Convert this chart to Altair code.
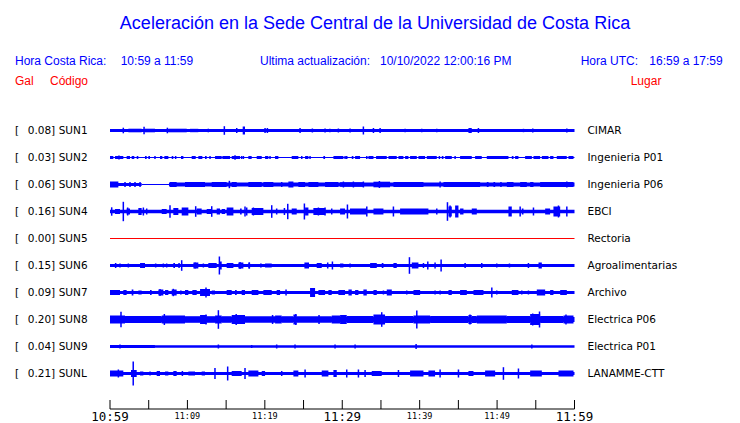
import altair as alt
import pandas as pd

# ---------------- data ----------------
codes = ["SUN1", "SUN2", "SUN3", "SUN4", "SUN5", "SUN6", "SUN7", "SUN8", "SUN9", "SUNL"]
peaks = [0.08, 0.03, 0.06, 0.16, 0.00, 0.15, 0.09, 0.20, 0.04, 0.21]
places = ["CIMAR", "Ingenieria P01", "Ingenieria P06", "EBCI", "Rectoria",
          "Agroalimentarias", "Archivo", "Electrica P06", "Electrica P01", "LANAMME-CTT"]

# minutes after 10:59 for ticks / labels
tick_minutes = list(range(0, 61, 5))
label_minutes = list(range(0, 61, 10))
tick_labels = ["10:59", "11:09", "11:19", "11:29", "11:39", "11:49", "11:59"]

# trace envelopes: (start_min, end_min, half amplitude) and spikes: (minute, half amplitude)
sun1_env = [(0, 60, 1.4), (2.37, 4.09, 1.8), (4.52, 5.81, 1.8), (7.54, 9.91, 1.8), (10.34, 11.41, 1.7),
            (17.14, 17.44, 4.0), (46.3, 46.73, 2.5)]
sun1_spk = [(1.72, 2.8), (4.4, 3.7), (7.41, 2.8), (12.7, 1.8), (14.77, 4.3), (16.37, 2.5), (20.03, 2.5),
            (20.33, 2.5), (24.55, 2.5), (26.14, 2.0), (27.78, 2.0), (28.4, 1.8), (29.5, 2.0), (31.01, 2.0),
            (32.73, 4.0), (34.03, 2.5), (34.89, 2.5), (38.12, 1.7), (40.27, 1.7), (42.21, 1.8), (47.59, 2.5),
            (53.41, 1.7), (54.61, 2.0), (59.01, 2.0)]

sun2_env = [(0, 60, 0.5)] + [(a, b, 1.5) for a, b in [
    (0.0, 0.43), (0.65, 1.72), (2.15, 2.58), (2.8, 3.14), (3.45, 3.66), (4.52, 4.74), (4.95, 5.17),
    (6.46, 6.76), (7.02, 7.54), (7.97, 8.18), (9.17, 9.48), (10.55, 11.07), (11.41, 11.93), (12.27, 12.49),
    (13.57, 14.43), (14.51, 15.51), (15.72, 16.8), (17.87, 18.3), (18.95, 19.6), (20.03, 20.46),
    (21.32, 21.75), (23.47, 24.33), (25.2, 25.63), (27.56, 27.78), (28.86, 30.15), (31.23, 31.44),
    (31.66, 32.3), (33.38, 34.03), (34.37, 35.75), (35.97, 37.04), (37.26, 37.9), (38.12, 38.55),
    (38.76, 39.63), (39.84, 40.7), (40.92, 42.21), (42.86, 43.07), (43.29, 44.15), (45.22, 46.73),
    (47.16, 48.02), (48.67, 51.47), (51.9, 52.12), (52.33, 52.76), (53.62, 54.49), (54.7, 55.56),
    (55.78, 56.64), (56.85, 57.28), (57.71, 59.0), (59.22, 59.87)]]
sun2_spk = [(1.16, 2.0), (5.81, 1.5), (8.48, 1.5), (12.92, 1.5), (16.15, 2.2), (17.01, 1.5), (17.23, 1.5),
            (20.67, 1.5), (24.77, 1.5), (25.84, 1.5), (30.37, 1.5), (30.58, 1.5), (33.17, 1.5), (42.55, 1.5),
            (44.58, 1.5)]

sun3_env = [(0, 4.09, 1.6), (4.09, 7.62, 0.5), (7.62, 60, 1.9),
            (0, 1.08, 3.0), (7.75, 8.61, 2.5), (9.69, 12.27, 2.5), (13.14, 15.07, 2.5), (15.72, 16.37, 2.5),
            (17.87, 19.6, 2.5), (19.81, 21.1, 2.5), (23.04, 23.69, 3.0), (24.33, 25.2, 2.5), (25.63, 26.92, 2.5),
            (27.78, 29.5, 2.5), (29.72, 32.73, 2.3), (34.03, 36.18, 2.8), (36.61, 40.49, 2.5), (43.07, 47.81, 2.5),
            (48.67, 48.9, 2.5), (49.53, 49.75, 2.5), (50.4, 50.6, 2.5), (51.26, 52.12, 2.5), (52.98, 53.84, 2.5),
            (54.27, 54.7, 2.5), (55.56, 59.87, 2.5)]
sun3_spk = [(1.94, 2.5), (2.58, 2.5), (3.23, 2.5), (3.88, 2.5), (15.42, 3.7), (22.18, 2.5), (30.15, 3.0),
            (31.44, 3.0), (32.73, 3.0), (34.8, 3.5), (42.64, 3.0), (59.01, 3.0)]

sun4_env = [(0, 60, 1.7), (0.65, 1.29, 2.5), (2.15, 2.58, 3.0), (3.66, 4.09, 3.5), (6.68, 7.32, 2.5),
            (8.18, 8.83, 3.5), (9.26, 10.12, 4.0), (11.2, 11.84, 3.0), (12.49, 13.14, 2.5), (13.78, 14.21, 3.0),
            (14.43, 14.86, 2.5), (15.07, 15.94, 4.0), (16.8, 17.01, 3.0), (18.3, 19.81, 3.5), (23.47, 24.12, 3.0),
            (25.2, 25.63, 4.0), (26.27, 27.78, 3.5), (29.72, 30.36, 3.0), (31.0, 33.17, 3.0), (34.03, 35.32, 3.0),
            (37.47, 41.13, 3.0), (43.72, 44.15, 5.0), (44.58, 45.01, 6.0), (45.22, 45.66, 3.0), (46.73, 47.38, 3.0),
            (51.47, 51.9, 5.0), (53.19, 53.41, 3.0), (56.21, 56.85, 3.0), (57.28, 58.15, 5.0)]
sun4_spk = [(0.22, 4.2), (1.72, 9.7), (2.28, 4.0), (4.31, 4.0), (4.74, 3.0), (7.75, 6.3), (11.07, 5.3),
            (13.14, 5.3), (17.44, 5.0), (17.66, 4.0), (18.52, 4.0), (20.89, 6.3), (21.53, 3.0), (22.53, 3.5),
            (22.96, 7.7), (25.11, 8.0), (26.92, 4.0), (27.78, 4.0), (28.64, 3.0), (30.67, 7.0), (33.17, 5.0),
            (36.61, 5.0), (42.21, 3.0), (43.59, 9.3), (43.93, 6.0), (52.98, 5.0), (54.7, 4.0), (57.93, 6.0),
            (59.01, 5.0)]

sun5_env = [(0, 60, 0.5)]
sun5_spk = []

sun6_env = [(0, 60, 1.4), (3.88, 4.52, 2.5), (8.18, 8.4, 2.5), (10.77, 11.41, 3.0), (12.7, 13.78, 2.5),
            (14.21, 14.43, 4.0), (15.07, 15.94, 2.5), (16.58, 17.23, 3.0), (17.87, 18.09, 3.0), (19.38, 19.6, 2.0),
            (20.03, 20.89, 2.0), (25.11, 25.71, 3.0), (26.7, 27.35, 2.5), (29.72, 30.15, 2.0), (33.6, 34.46, 2.5),
            (35.1, 35.32, 2.5), (36.61, 37.04, 2.5), (38.98, 39.84, 3.0), (55.35, 55.78, 3.0)]
sun6_spk = [(0.73, 2.5), (1.29, 2.0), (2.37, 2.0), (5.9, 2.0), (6.89, 2.0), (7.32, 2.0), (8.92, 2.5),
            (9.26, 5.3), (11.0, 3.0), (12.06, 2.0), (14.13, 9.0), (16.8, 3.5), (18.0, 3.0), (28.12, 3.0),
            (28.73, 4.0), (31.01, 2.0), (38.68, 8.3), (40.49, 2.5), (41.05, 4.0), (41.99, 3.0), (42.77, 6.0),
            (45.87, 2.5), (48.02, 2.5), (49.96, 2.0), (51.6, 2.0), (54.05, 2.5)]

sun7_env = [(0, 60, 1.6), (0, 1.29, 2.5), (1.72, 2.15, 2.5), (2.8, 3.02, 3.0), (3.66, 4.09, 2.0),
            (5.17, 5.38, 2.5), (6.25, 6.89, 3.0), (7.11, 7.54, 2.5), (7.97, 8.61, 3.0), (9.04, 9.26, 2.0),
            (9.69, 10.12, 2.5), (10.64, 11.2, 2.5), (11.63, 12.92, 3.5), (13.14, 13.57, 2.0), (15.07, 15.72, 2.5),
            (16.15, 16.37, 2.5), (17.01, 17.44, 2.5), (18.3, 19.17, 2.5), (19.81, 20.89, 2.5), (21.53, 21.97, 2.5),
            (25.84, 26.49, 4.5), (26.92, 27.78, 2.5), (28.21, 28.64, 2.5), (29.5, 30.36, 2.5), (30.8, 31.23, 3.0),
            (31.66, 32.09, 2.5), (32.73, 33.17, 3.0), (34.03, 34.46, 2.5), (35.75, 36.4, 3.0), (39.2, 40.06, 2.5),
            (43.72, 44.15, 2.5), (45.22, 46.09, 2.5), (46.95, 48.24, 2.5), (51.9, 52.76, 2.5), (55.13, 56.21, 3.0),
            (56.85, 57.28, 2.5), (58.15, 59.01, 2.5)]
sun7_spk = [(6.46, 3.5), (8.18, 3.7), (12.4, 5.0), (22.74, 3.0), (35.32, 2.0), (38.33, 2.0), (41.99, 2.0),
            (42.64, 2.0), (49.32, 5.0), (49.96, 2.0), (53.19, 2.0), (54.05, 2.0)]

sun8_env = [(0, 60, 2.6), (0, 1.94, 4.0), (1.94, 6.68, 3.5), (6.68, 9.69, 4.0), (9.69, 11.63, 3.3),
            (11.63, 12.49, 4.5), (12.49, 13.57, 3.3), (13.57, 14.43, 4.0), (14.43, 15.72, 3.3), (15.72, 17.44, 4.5),
            (17.44, 21.32, 3.3), (21.32, 22.18, 4.0), (22.18, 23.69, 3.3), (23.69, 24.12, 5.0), (24.12, 28.64, 3.3),
            (28.64, 29.72, 4.0), (29.72, 30.58, 4.5), (30.58, 34.03, 3.5), (34.03, 35.53, 5.0), (35.53, 39.2, 3.5),
            (39.2, 41.35, 4.0), (41.35, 46.3, 3.5), (46.3, 46.73, 4.5), (46.73, 47.38, 3.5), (47.38, 51.26, 4.0),
            (51.26, 54.27, 3.5), (54.27, 55.56, 5.5), (55.56, 58.58, 3.5), (58.58, 59.87, 4.0)]
sun8_spk = [(1.42, 7.8), (7.02, 5.5), (12.4, 5.0), (14.0, 9.3), (16.3, 5.5), (21.0, 4.5), (24.0, 5.5),
            (27.0, 4.5), (35.1, 7.3), (39.63, 9.0), (46.5, 5.0), (54.6, 6.0), (55.48, 8.0), (58.9, 5.0)]

sun9_env = [(0, 60, 1.3), (0, 5.8, 1.6)]
sun9_spk = [(1.29, 2.0), (14.0, 2.0), (18.3, 1.5), (21.53, 2.0), (23.9, 2.0), (29.07, 2.0), (31.66, 2.0),
            (39.54, 2.5), (54.49, 2.0)]

sunl_env = [(0, 60, 1.6), (0, 1.72, 3.0), (2.71, 3.45, 3.5), (3.88, 4.31, 2.0), (6.03, 6.46, 2.5),
            (7.11, 7.54, 2.0), (8.18, 8.61, 2.5), (10.12, 10.98, 2.0), (11.84, 12.27, 2.0), (15.72, 17.01, 2.5),
            (17.87, 19.17, 3.0), (19.6, 20.03, 2.5), (23.69, 24.33, 3.0), (27.35, 28.21, 3.0), (28.86, 29.29, 3.5),
            (33.81, 35.1, 2.5), (38.76, 40.49, 3.0), (41.13, 41.99, 3.0), (46.3, 46.95, 2.5), (48.45, 49.75, 3.0),
            (54.27, 55.78, 3.0), (57.93, 59.87, 3.0)]
sunl_spk = [(1.08, 4.0), (3.0, 12.0), (5.17, 2.0), (9.35, 2.5), (13.56, 5.5), (15.2, 7.0), (17.44, 5.5),
            (22.18, 2.5), (25.2, 4.0), (30.58, 4.0), (32.09, 4.0), (32.95, 3.5), (37.26, 3.5), (42.64, 4.0),
            (45.01, 4.0), (50.82, 6.3), (52.76, 5.0)]

envelopes = [sun1_env, sun2_env, sun3_env, sun4_env, sun5_env, sun6_env, sun7_env, sun8_env, sun9_env, sunl_env]
spikes = [sun1_spk, sun2_spk, sun3_spk, sun4_spk, sun5_spk, sun6_spk, sun7_spk, sun8_spk, sun9_spk, sunl_spk]

# ---------------- tables ----------------
ROW = 27.0  # amplitude units per trace spacing
BLUE = "#0000ff"
RED = "#ff0000"

seg_rows, spk_rows = [], []
for i, (env, spk) in enumerate(zip(envelopes, spikes)):
    col = RED if peaks[i] == 0 else BLUE
    for a, b, h in env:
        seg_rows.append({"row": i, "start": a, "end": b, "lo": i - h / ROW, "hi": i + h / ROW, "color": col})
    for t, h in spk:
        spk_rows.append({"row": i, "t": t, "lo": i - h / ROW, "hi": i + h / ROW, "color": col})
seg_df = pd.DataFrame(seg_rows)
spk_df = pd.DataFrame(spk_rows)
lab_df = pd.DataFrame({"row": list(range(len(codes))), "code": codes,
                       "peak": [f"{p:.2f}]" for p in peaks], "place": places})
tick_df = pd.DataFrame({"m": tick_minutes})
tlab_df = pd.DataFrame({"m": label_minutes, "label": tick_labels})
dom_df = pd.DataFrame({"a": [tick_minutes[0]], "b": [tick_minutes[-1]]})

xs = alt.Scale(domain=[0, 60], range=[102, 566.5], nice=False, zero=False)
ys = alt.Scale(domain=[0, 9], range=[122.5, 365.5], nice=False, zero=False)

bands = alt.Chart(seg_df).mark_rect().encode(
    x=alt.X("start:Q", scale=xs, axis=None), x2="end:Q",
    y=alt.Y("lo:Q", scale=ys, axis=None), y2="hi:Q",
    color=alt.Color("color:N", scale=None))

spk_layer = alt.Chart(spk_df).mark_rule(strokeWidth=1.5).encode(
    x=alt.X("t:Q", scale=xs, axis=None),
    y=alt.Y("lo:Q", scale=ys, axis=None), y2="hi:Q",
    color=alt.Color("color:N", scale=None))

# time axis: baseline, upward ticks, two sizes of labels
domain = alt.Chart(dom_df).mark_rule(color="black", strokeWidth=1).encode(
    x=alt.X("a:Q", scale=xs, axis=None), x2="b:Q", y=alt.value(401))
ticks = alt.Chart(tick_df).mark_rule(color="black", strokeWidth=1).encode(
    x=alt.X("m:Q", scale=xs, axis=None), y=alt.value(392), y2=alt.value(401))
big_lab = alt.Chart(tlab_df).transform_filter("datum.m % 30 === 0").mark_text(
    font="DejaVu Sans Mono", fontSize=12.5, color="black", align="center", baseline="alphabetic"
).encode(x=alt.X("m:Q", scale=xs, axis=None), y=alt.value(413), text="label:N")
small_lab = alt.Chart(tlab_df).transform_filter("datum.m % 30 !== 0").mark_text(
    font="DejaVu Sans Mono", fontSize=8.5, color="black", align="center", baseline="alphabetic"
).encode(x=alt.X("m:Q", scale=xs, axis=None), y=alt.value(411), text="label:N")

lab_font = dict(font="DejaVu Sans", fontSize=10.5, color="black", align="left", baseline="middle")
yrow = alt.Y("row:Q", scale=ys, axis=None)
bracket = alt.Chart(lab_df).mark_text(**lab_font).encode(x=alt.value(7), y=yrow, text=alt.value("["))
peak_txt = alt.Chart(lab_df).mark_text(**lab_font).encode(x=alt.value(19.7), y=yrow, text="peak:N")
code_txt = alt.Chart(lab_df).mark_text(**lab_font).encode(x=alt.value(50.7), y=yrow, text="code:N")
place_txt = alt.Chart(lab_df).mark_text(**lab_font).encode(x=alt.value(579.5), y=yrow, text="place:N")


def header(txt, x, y, color=BLUE, size=12, align="left"):
    return alt.Chart(pd.DataFrame({"label": [txt]})).mark_text(
        font="Liberation Sans", fontSize=size, color=color, align=align, baseline="alphabetic"
    ).encode(x=alt.value(x), y=alt.value(y), text="label:N")


headers = [
    header("Aceleración en la Sede Central de la Universidad de Costa Rica", 367, 21.3, size=18, align="center"),
    header("Hora Costa Rica:", 7, 57),
    header("10:59 a 11:59", 112.7, 57),
    header("Ultima actualización:", 252, 57),
    header("10/10/2022 12:00:16 PM", 372, 57),
    header("Hora UTC:", 572.7, 57),
    header("16:59 a 17:59", 714.7, 57, align="right"),
    header("Gal", 7, 77, color=RED),
    header("Código", 42, 77, color=RED),
    header("Lugar", 622.7, 77, color=RED),
]

chart = alt.layer(bands, spk_layer, domain, ticks, big_lab, small_lab,
                  bracket, peak_txt, code_txt, place_txt, *headers).properties(
    width=724, height=401, autosize="none",
    padding={"left": 0, "top": 0, "right": 0, "bottom": 14},
    background="white",
).configure_view(stroke=None)

chart.save("out.html", embed_options={"renderer": "svg", "actions": False})
